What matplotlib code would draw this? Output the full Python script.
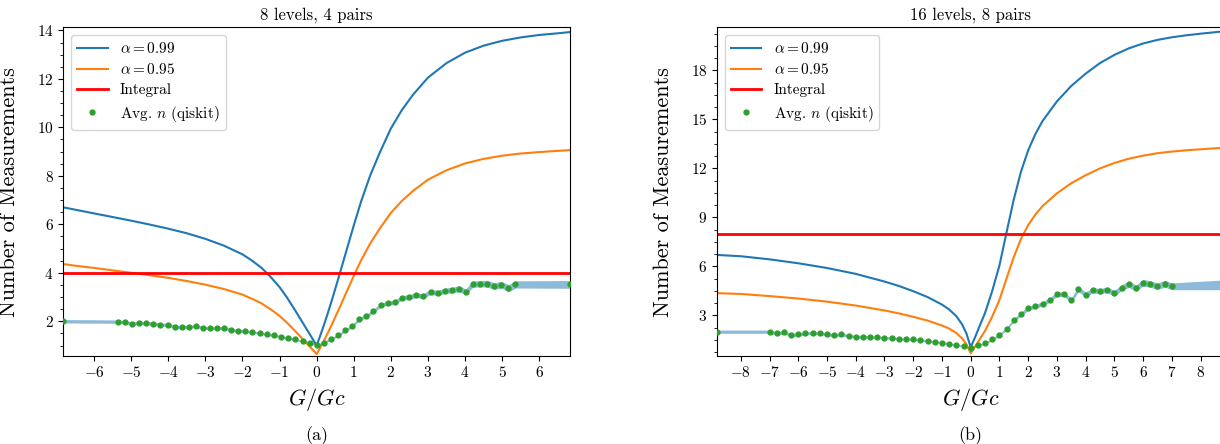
import numpy as np
import matplotlib
matplotlib.use('Agg')
import matplotlib.pyplot as plt

plt.rcParams['font.family'] = 'serif'
plt.rcParams['font.serif'] = ['cmr10', 'DejaVu Serif']
plt.rcParams['mathtext.fontset'] = 'cm'
plt.rcParams['axes.formatter.use_mathtext'] = True
plt.rcParams['axes.unicode_minus'] = True

# ---- panel (a): 8 levels, 4 pairs ----
a_curve_x = [-6.83, -6.5, -6.0, -5.5, -5.0, -4.5, -4.0, -3.5, -3.0, -2.5, -2.0, -1.75, -1.5, -1.35, -1.2,
             -1.0, -0.8, -0.6, -0.4, -0.2, 0.0,
             0.1, 0.2, 0.3, 0.4, 0.5, 0.63, 0.8, 1.0, 1.2, 1.44, 1.7, 2.0, 2.3, 2.6, 3.0, 3.5, 4.0,
             4.5, 5.0, 5.5, 6.0, 6.5, 6.83]
a_blue = [6.70, 6.60, 6.45, 6.30, 6.15, 5.99, 5.82, 5.63, 5.40, 5.12, 4.76, 4.51, 4.22, 4.00, 3.76,
          3.41, 2.98, 2.50, 2.00, 1.50, 1.00,
          1.42, 1.86, 2.33, 2.82, 3.33, 4.00, 4.90, 5.95, 6.95, 8.00, 8.95, 9.95, 10.72, 11.35, 12.05, 12.65, 13.08,
          13.37, 13.57, 13.71, 13.81, 13.88, 13.93]
a_orange = [4.36, 4.29, 4.20, 4.10, 4.00, 3.90, 3.79, 3.66, 3.51, 3.33, 3.10, 2.93, 2.75, 2.60, 2.45,
            2.22, 1.94, 1.63, 1.30, 0.98, 0.65,
            0.92, 1.21, 1.52, 1.83, 2.17, 2.60, 3.19, 3.87, 4.52, 5.20, 5.82, 6.47, 6.97, 7.38, 7.84, 8.23, 8.51,
            8.70, 8.83, 8.92, 8.98, 9.03, 9.06]
a_integral = 4

a_qx = [-6.83, -5.36, -5.17, -4.98, -4.79, -4.60, -4.41, -4.21, -4.02, -3.83, -3.64, -3.45, -3.26, -3.07,
        -2.87, -2.68, -2.49, -2.30, -2.11, -1.92, -1.73, -1.53, -1.34, -1.15, -0.96, -0.77, -0.58, -0.38, -0.19, 0.0,
        0.19, 0.38, 0.58, 0.77, 0.96, 1.15, 1.34, 1.53, 1.73, 1.92, 2.11, 2.30, 2.49, 2.68,
        2.87, 3.07, 3.26, 3.45, 3.64, 3.83, 4.02, 4.21, 4.41, 4.60, 4.79, 4.98, 5.17, 5.36, 6.83]
a_qn = [2.00, 1.985, 1.97, 1.89, 1.94, 1.92, 1.905, 1.85, 1.86, 1.78, 1.75, 1.78, 1.80, 1.73,
        1.71, 1.73, 1.71, 1.65, 1.61, 1.60, 1.56, 1.50, 1.46, 1.42, 1.36, 1.30, 1.25, 1.18, 1.12, 1.02,
        1.12, 1.27, 1.42, 1.63, 1.81, 2.09, 2.22, 2.42, 2.67, 2.74, 2.79, 2.97, 2.99, 3.08,
        3.03, 3.22, 3.16, 3.26, 3.28, 3.34, 3.22, 3.53, 3.55, 3.55, 3.45, 3.51, 3.36, 3.52, 3.52]
a_qerr = [0.07, 0.07, 0.07, 0.07, 0.07, 0.07, 0.07, 0.07, 0.07, 0.07, 0.07, 0.06, 0.06, 0.06,
          0.06, 0.06, 0.06, 0.06, 0.06, 0.05, 0.05, 0.05, 0.05, 0.05, 0.05, 0.05, 0.04, 0.04, 0.04, 0.04,
          0.04, 0.05, 0.05, 0.06, 0.06, 0.07, 0.07, 0.08, 0.08, 0.08, 0.09, 0.09, 0.10, 0.10,
          0.10, 0.11, 0.11, 0.11, 0.12, 0.12, 0.12, 0.13, 0.13, 0.14, 0.14, 0.14, 0.15, 0.15, 0.16]

# ---- panel (b): 16 levels, 8 pairs ----
b_curve_x = [-8.83, -8.0, -7.0, -6.0, -5.0, -4.0, -3.0, -2.5, -2.0, -1.5, -1.0, -0.75, -0.5, -0.3, -0.15, 0.0,
             0.15, 0.3, 0.5, 0.75, 1.0, 1.25, 1.5, 1.75, 2.0, 2.25, 2.5, 3.0, 3.5, 4.0, 4.5, 5.0, 5.5,
             6.0, 6.5, 7.0, 7.5, 8.0, 8.83]
b_blue = [6.70, 6.62, 6.43, 6.19, 5.90, 5.54, 5.07, 4.80, 4.48, 4.12, 3.66, 3.36, 2.95, 2.45, 1.90, 1.05,
          1.65, 2.30, 3.15, 4.50, 6.05, 8.10, 10.10, 11.80, 13.10, 14.10, 14.90, 16.10, 17.05, 17.80, 18.45, 18.95, 19.35,
          19.65, 19.87, 20.03, 20.15, 20.25, 20.40]
b_orange = [4.36, 4.31, 4.18, 4.03, 3.84, 3.60, 3.30, 3.12, 2.91, 2.68, 2.38, 2.19, 1.92, 1.59, 1.24, 0.68,
            1.07, 1.50, 2.05, 2.93, 3.94, 5.27, 6.57, 7.68, 8.52, 9.17, 9.69, 10.47, 11.09, 11.58, 12.00, 12.33, 12.59,
            12.78, 12.93, 13.03, 13.11, 13.17, 13.27]
b_integral = 8

b_qx = [-8.83, -7.0, -6.75, -6.5, -6.25, -6.0, -5.75, -5.5, -5.25, -5.0, -4.75, -4.5, -4.25, -4.0,
        -3.75, -3.5, -3.25, -3.0, -2.75, -2.5, -2.25, -2.0, -1.75, -1.5, -1.25, -1.0, -0.75, -0.5, -0.25, 0.0,
        0.25, 0.5, 0.75, 1.0, 1.25, 1.5, 1.75, 2.0, 2.25, 2.5, 2.75, 3.0, 3.25, 3.5,
        3.75, 4.0, 4.25, 4.5, 4.75, 5.0, 5.25, 5.5, 5.75, 6.0, 6.25, 6.5, 6.75, 7.0, 8.83]
b_qn = [2.00, 2.00, 1.90, 1.96, 1.79, 1.83, 1.90, 1.92, 1.90, 1.83, 1.79, 1.83, 1.75, 1.69,
        1.69, 1.67, 1.65, 1.63, 1.61, 1.57, 1.53, 1.55, 1.49, 1.43, 1.39, 1.33, 1.25, 1.19, 1.11, 1.03,
        1.16, 1.30, 1.53, 1.81, 2.18, 2.71, 3.08, 3.43, 3.55, 3.71, 3.94, 4.30, 4.30, 3.92,
        4.61, 4.26, 4.55, 4.47, 4.57, 4.35, 4.69, 4.90, 4.67, 5.00, 4.92, 4.78, 4.94, 4.78, 4.87]
b_qerr = [0.10, 0.10, 0.10, 0.10, 0.10, 0.10, 0.09, 0.09, 0.09, 0.09, 0.09, 0.09, 0.08, 0.08,
          0.08, 0.08, 0.08, 0.08, 0.07, 0.07, 0.07, 0.07, 0.07, 0.06, 0.06, 0.06, 0.06, 0.06, 0.05, 0.05,
          0.05, 0.06, 0.07, 0.08, 0.09, 0.10, 0.11, 0.12, 0.12, 0.13, 0.13, 0.14, 0.14, 0.15,
          0.15, 0.16, 0.16, 0.17, 0.17, 0.18, 0.18, 0.19, 0.19, 0.20, 0.20, 0.20, 0.21, 0.21, 0.30]

panels = [
    ('8 levels, 4 pairs', '(a)', a_curve_x, a_blue, a_orange, a_integral, a_qx, a_qn, a_qerr,
     (-6.83, 6.83), (0.58, 14.12), np.arange(-6, 7, 1), np.arange(2, 15, 2)),
    ('16 levels, 8 pairs', '(b)', b_curve_x, b_blue, b_orange, b_integral, b_qx, b_qn, b_qerr,
     (-8.83, 8.83), (0.53, 20.63), np.arange(-8, 9, 1), np.arange(3, 19, 3)),
]

fig = plt.figure(figsize=(12.2, 4.44), dpi=100)
positions = [[0.0519, 0.1989, 0.4153, 0.7392], [0.5877, 0.1989, 0.4159, 0.7392]]

for pos, (title, tag, cx, blue, orange, integ, qx, qn, qerr, xl, yl, xt, yt) in zip(positions, panels):
    ax = fig.add_axes(pos)
    qn_arr = np.array(qn)
    qerr_arr = np.array(qerr)
    ax.fill_between(qx, qn_arr - qerr_arr, qn_arr + qerr_arr, color='C0', alpha=0.5, lw=0, zorder=1)
    ax.plot(cx, blue, color='C0', lw=1.5, label=r'$\alpha = 0.99$', zorder=2)
    ax.plot(cx, orange, color='C1', lw=1.5, label=r'$\alpha = 0.95$', zorder=2)
    ax.axhline(integ, color='red', lw=2, label='Integral', zorder=2)
    ax.plot(qx, qn, 'o', color='C2', ms=3.5, label=r'Avg. $n$ (qiskit)', zorder=3)
    ax.set_xlim(*xl)
    ax.set_ylim(*yl)
    ax.set_xticks(xt)
    ax.set_yticks(yt)
    ax.yaxis.set_minor_locator(matplotlib.ticker.AutoMinorLocator())
    ax.tick_params(labelsize=11)
    ax.set_title(title, fontsize=12)
    ax.set_xlabel(r'$G/Gc$', fontsize=16)
    ax.set_ylabel('Number of Measurements', fontsize=16)
    ax.yaxis.set_label_coords(-0.087, 0.5)
    ax.legend(loc='upper left', fontsize=11, labelspacing=0.4)
    fig.text(pos[0] + 0.4153 / 2, 0.018, tag, ha='center', va='center', fontsize=13)

fig.savefig('out.png', dpi=100)
